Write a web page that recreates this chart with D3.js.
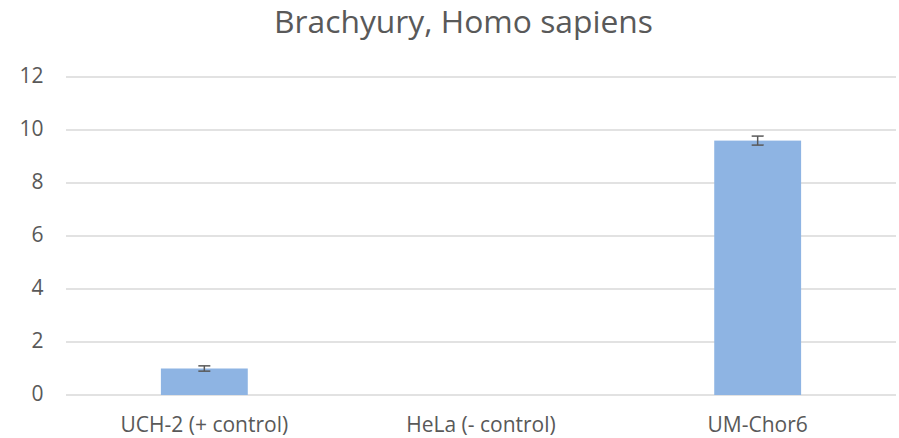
<!DOCTYPE html>
<html>
<head>
<meta charset="utf-8">
<script src="https://cdn.jsdelivr.net/npm/d3@7"></script>
<style>
  body { margin: 0; background: #fff; }
  text { font-family: "Open Sans", sans-serif; fill: #595959; }
</style>
</head>
<body>
<div id="chart"></div>
<script>
// Data
const categories = ["UCH-2 (+ control)", "HeLa (- control)", "UM-Chor6"];
const values = [1.0, 0, 9.6];
const errors = [0.1, 0, 0.17];
const yTicks = [0, 2, 4, 6, 8, 10, 12];
const title = "Brachyury, Homo sapiens";

// Dimensions
const totalWidth = 899, totalHeight = 438;
const margin = { top: 77, right: 3, bottom: 43, left: 66 };
const width = totalWidth - margin.left - margin.right;
const height = totalHeight - margin.top - margin.bottom;

const svg = d3.select("#chart")
  .append("svg")
  .attr("width", totalWidth)
  .attr("height", totalHeight);

svg.append("text")
  .attr("x", 463.5)
  .attr("y", 33)
  .attr("text-anchor", "middle")
  .style("font-size", "31.8px")
  .text(title);

const g = svg.append("g")
  .attr("transform", `translate(${margin.left},${margin.top})`);

const x = d3.scaleBand().domain(categories).range([0, width]).padding(0);
const y = d3.scaleLinear().domain([0, 12]).range([height, 0]);
const barWidth = x.bandwidth() * 0.314;

// gridlines
g.selectAll(".grid")
  .data(yTicks)
  .enter()
  .append("line")
  .attr("class", "grid")
  .attr("x1", 0)
  .attr("x2", width)
  .attr("y1", d => y(d))
  .attr("y2", d => y(d))
  .attr("stroke", "#d9d9d9")
  .attr("stroke-width", 1.3);

// y tick labels
g.selectAll(".ylab")
  .data(yTicks)
  .enter()
  .append("text")
  .attr("class", "ylab")
  .attr("x", -22.5)
  .attr("y", d => y(d))
  .attr("dy", "0.3em")
  .attr("text-anchor", "end")
  .style("font-size", "21px")
  .text(d => d);

// bars
g.selectAll(".bar")
  .data(values)
  .enter()
  .append("rect")
  .attr("class", "bar")
  .attr("x", (d, i) => x(categories[i]) + x.bandwidth() / 2 - barWidth / 2)
  .attr("y", d => y(d))
  .attr("width", barWidth)
  .attr("height", d => height - y(d))
  .attr("fill", "#8eb4e3");

// error bars
const capW = 6;
const err = g.selectAll(".err")
  .data(values.map((v, i) => ({ v, e: errors[i], c: categories[i] })).filter(d => d.e > 0))
  .enter()
  .append("g")
  .attr("class", "err")
  .attr("stroke", "#595959")
  .attr("stroke-width", 1.5);

err.append("line")
  .attr("x1", d => x(d.c) + x.bandwidth() / 2)
  .attr("x2", d => x(d.c) + x.bandwidth() / 2)
  .attr("y1", d => y(d.v + d.e))
  .attr("y2", d => y(d.v - d.e));
err.append("line")
  .attr("x1", d => x(d.c) + x.bandwidth() / 2 - capW)
  .attr("x2", d => x(d.c) + x.bandwidth() / 2 + capW)
  .attr("y1", d => y(d.v + d.e))
  .attr("y2", d => y(d.v + d.e));
err.append("line")
  .attr("x1", d => x(d.c) + x.bandwidth() / 2 - capW)
  .attr("x2", d => x(d.c) + x.bandwidth() / 2 + capW)
  .attr("y1", d => y(d.v - d.e))
  .attr("y2", d => y(d.v - d.e));

// x labels
g.selectAll(".xlab")
  .data(categories)
  .enter()
  .append("text")
  .attr("class", "xlab")
  .attr("x", d => x(d) + x.bandwidth() / 2)
  .attr("y", height + 37)
  .attr("text-anchor", "middle")
  .style("font-size", "21px")
  .text(d => d);
</script>
</body>
</html>
